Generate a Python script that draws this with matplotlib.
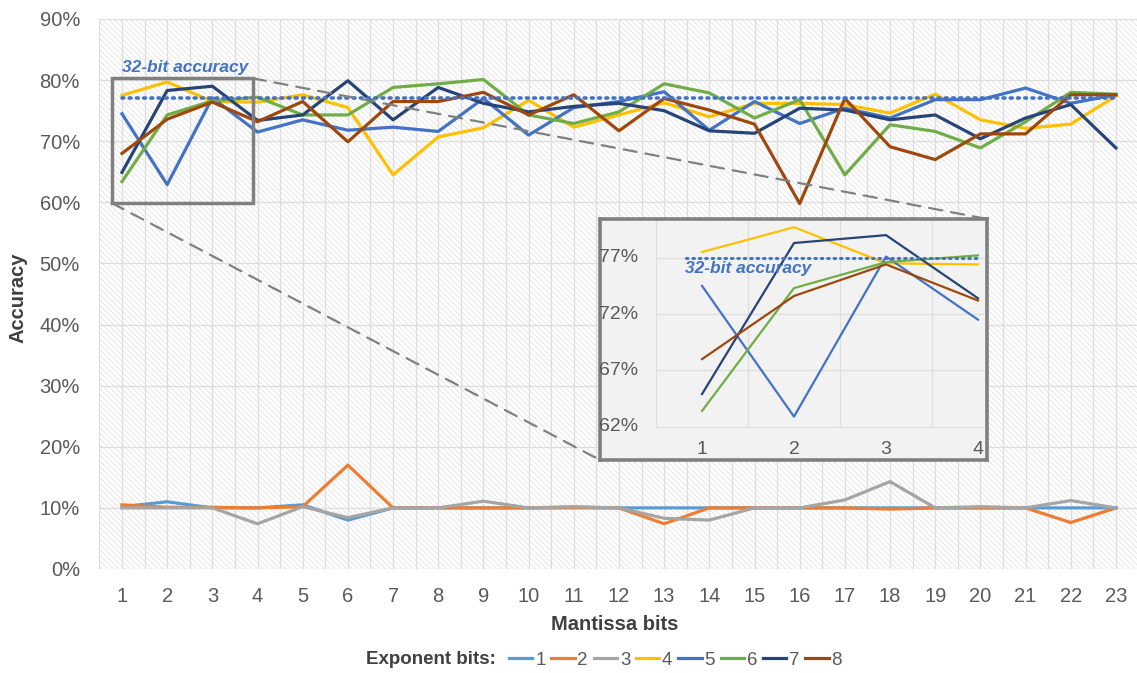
import matplotlib
matplotlib.use("Agg")
import matplotlib.pyplot as plt
from matplotlib.patches import Rectangle, ConnectionPatch
from matplotlib.lines import Line2D

plt.rcParams['font.family'] = ['Liberation Sans', 'DejaVu Sans']
plt.rcParams['hatch.linewidth'] = 0.45
plt.rcParams['hatch.color'] = '#dadada'

# ---------------- data ----------------
mantissa_bits = list(range(1, 24))
exponent_labels = ['1', '2', '3', '4', '5', '6', '7', '8']
colors = ['#5b9bd5', '#ed7d31', '#a5a5a5', '#ffc000', '#4472c4', '#70ad47', '#264478', '#9e480e']

exp1 = [10.2, 11.0, 10.0, 10.0, 10.5, 8.0, 10.0, 10.0, 10.0, 10.0, 10.1, 10.0, 10.0, 10.0, 10.0, 10.0, 10.0, 10.0, 10.0, 10.0, 10.0, 10.0, 10.0]
exp2 = [10.5, 10.1, 10.1, 10.0, 10.2, 17.0, 10.0, 10.0, 10.0, 10.0, 10.0, 10.0, 7.4, 10.0, 10.0, 10.0, 10.0, 9.8, 10.0, 10.0, 10.0, 7.6, 10.0]
exp3 = [10.0, 10.0, 10.0, 7.4, 10.2, 8.4, 10.0, 10.0, 11.1, 10.0, 10.2, 10.0, 8.3, 8.0, 10.0, 10.0, 11.3, 14.3, 10.0, 10.2, 10.0, 11.2, 10.0]
exp4 = [77.5, 79.7, 76.5, 76.4, 77.6, 75.5, 64.5, 70.7, 72.2, 76.7, 72.3, 74.3, 76.3, 74.0, 76.2, 76.2, 76.0, 74.6, 77.7, 73.5, 72.1, 72.8, 77.4]
exp5 = [74.5, 62.9, 77.1, 71.5, 73.5, 71.8, 72.3, 71.6, 77.0, 71.0, 75.5, 76.5, 78.1, 71.8, 76.5, 72.9, 75.4, 73.8, 76.8, 76.8, 78.7, 76.2, 77.6]
exp6 = [63.4, 74.3, 76.6, 77.2, 74.3, 74.3, 78.8, 79.4, 80.1, 74.3, 72.9, 74.8, 79.4, 77.9, 73.8, 76.8, 64.5, 72.7, 71.6, 68.9, 73.2, 78.0, 77.7]
exp7 = [64.9, 78.3, 79.0, 73.4, 74.3, 79.9, 73.5, 78.8, 76.2, 74.8, 75.7, 76.2, 75.0, 71.7, 71.3, 75.4, 75.1, 73.5, 74.3, 70.4, 73.8, 76.0, 68.9]
exp8 = [68.0, 73.6, 76.4, 73.2, 76.5, 69.9, 76.5, 76.5, 78.0, 74.3, 77.6, 71.7, 77.0, 75.1, 72.8, 59.8, 77.0, 69.1, 67.0, 71.2, 71.2, 77.6, 77.6]
series = [exp1, exp2, exp3, exp4, exp5, exp6, exp7, exp8]

baseline_32bit = 77.0
y_ticks = [0, 10, 20, 30, 40, 50, 60, 70, 80, 90]
inset_bits = [1, 2, 3, 4]
inset_y_ticks = [62, 67, 72, 77]

W, H = 1137, 673
tick_color = '#595959'

fig = plt.figure(figsize=(W / 100, H / 100), dpi=100)
ax = fig.add_axes([99.4 / W, 1 - 569 / H, (W - 99.4) / W, 550 / H])
ax.set_xlim(0.5, 23.466)
ax.set_ylim(0, 90)
ax.set_facecolor('white')
for s in ax.spines.values():
    s.set_visible(False)

# hatched background
ax.add_patch(Rectangle((0, 0), 1, 1, transform=ax.transAxes, facecolor='white',
                       edgecolor='#dadada', hatch='\\\\\\\\\\\\', lw=0, zorder=0))
for xv in [0.5 + 0.5 * i for i in range(47)]:
    ax.axvline(xv, color='#dddddd', lw=0.9, zorder=0.5)
for yv in y_ticks:
    ax.axhline(yv, color='#dddddd', lw=0.9, zorder=0.5)

ax.set_xticks(mantissa_bits)
ax.set_xticklabels([str(m) for m in mantissa_bits])
ax.set_yticks(y_ticks)
ax.set_yticklabels([f'{v}%' for v in y_ticks])
ax.tick_params(length=0, labelsize=14.5, colors=tick_color)
ax.tick_params(axis='y', pad=14)
ax.tick_params(axis='x', pad=13)

for ys, c, lab in zip(series, colors, exponent_labels):
    ax.plot(mantissa_bits, ys, color=c, lw=2.3, zorder=3, label=lab)

ax.plot([mantissa_bits[0], mantissa_bits[-1]], [baseline_32bit, baseline_32bit],
        color='#4472c4', lw=2.6, ls=(0, (0.5, 1.5)), dash_capstyle='round', zorder=4)
ax.text(1.0, 82.0, '32-bit accuracy', color='#4472c4', fontsize=12.5,
        fontweight='bold', fontstyle='italic', ha='left', va='center', zorder=5)

# zoom rectangle
rx0, rx1, ry0, ry1 = 0.77, 3.89, 59.9, 80.3
ax.add_patch(Rectangle((rx0, ry0), rx1 - rx0, ry1 - ry0, fill=False,
                       edgecolor='#808080', lw=2.5, zorder=6))

fig.text(18 / W, 1 - 298 / H, 'Accuracy', rotation=90, ha='center', va='center',
         fontsize=14.5, fontweight='bold', color='#404040')
fig.text(615 / W, 1 - 625 / H, 'Mantissa bits', ha='center', va='center',
         fontsize=14.5, fontweight='bold', color='#404040')

# ---------------- inset ----------------
ix0, iy0, ix1, iy1 = 600, 219, 987, 460
iax = fig.add_axes([ix0 / W, 1 - iy1 / H, (ix1 - ix0) / W, (iy1 - iy0) / H])
iax.set_xlim(-0.109, 4.098)
iax.set_ylim(59.05, 80.43)
iax.set_facecolor('#f2f2f2')
iax.set_xticks([])
iax.set_yticks([])
for s in iax.spines.values():
    s.set_color('#808080')
    s.set_linewidth(2.6)
for yv in inset_y_ticks:
    iax.plot([0.5, 4.05], [yv, yv], color='#dedede', lw=0.9, zorder=0.5)
    iax.text(0.31, yv, f'{yv}%', ha='right', va='center', fontsize=14, color=tick_color)
for xv in [0.5, 1.5, 2.5, 3.5]:
    iax.plot([xv, xv], [inset_y_ticks[0], 80.43], color='#dedede', lw=0.9, zorder=0.5)
for xv in inset_bits:
    iax.text(xv, 59.95, str(xv), ha='center', va='center', fontsize=14, color=tick_color)
n = len(inset_bits)
for ys, c in zip(series[3:], colors[3:]):
    iax.plot(inset_bits, ys[:n], color=c, lw=1.6, zorder=3)
iax.plot([0.83, inset_bits[-1]], [baseline_32bit, baseline_32bit], color='#4472c4', lw=2.2,
         ls=(0, (0.5, 1.6)), dash_capstyle='round', zorder=4)
iax.text(0.82, 76.05, '32-bit accuracy', color='#4472c4', fontsize=12.5,
         fontweight='bold', fontstyle='italic', ha='left', va='center', zorder=5)

# connectors
for (xa, ya), (xb, yb) in [((rx1, ry1), (1, 1)), ((rx0, ry0), (0, 0))]:
    cp = ConnectionPatch(xyA=(xa, ya), coordsA=ax.transData, xyB=(xb, yb),
                         coordsB=iax.transAxes, color='#808080', lw=1.6,
                         ls=(0, (6, 4)), zorder=2)
    fig.add_artist(cp)

# ---------------- legend ----------------
fig.text(496 / W, 1 - 660 / H, 'Exponent bits:', ha='right', va='center',
         fontsize=13.5, fontweight='bold', color='#404040')
handles = [Line2D([], [], color=c, lw=2.3) for c in colors]
leg = fig.legend(handles, exponent_labels, loc='center left',
                 bbox_to_anchor=(509 / W, 1 - 660 / H), ncol=8, frameon=False,
                 fontsize=13.5, handlelength=1.25, handletextpad=0.15, columnspacing=0.3,
                 borderpad=0, borderaxespad=0)
for t in leg.get_texts():
    t.set_color(tick_color)

fig.savefig('out.png', dpi=100)
